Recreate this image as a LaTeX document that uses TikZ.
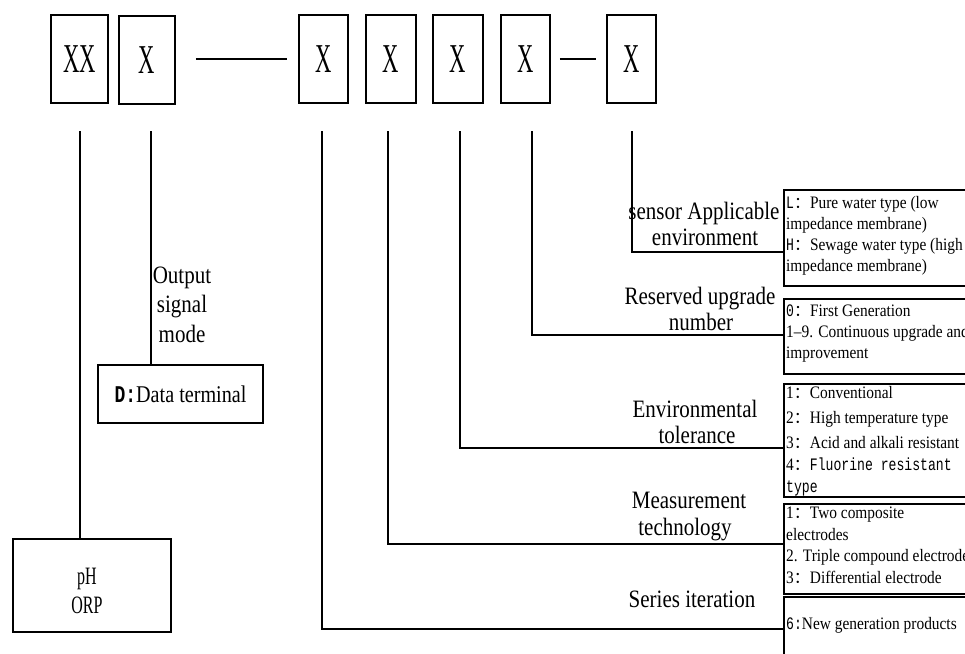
\documentclass[tikz,border=0pt]{standalone}
\usepackage{fontspec}
\setmainfont{Liberation Serif}
\newfontfamily\cjkfont{Noto Sans CJK SC}
\newfontfamily\condfont[FakeStretch=0.55]{Liberation Serif}
\newfontfamily\phfont[FakeStretch=0.64]{Liberation Serif}
\newfontfamily\labfont[FakeStretch=0.84]{Liberation Serif}
\newfontfamily\boxfont[FakeStretch=0.88]{Liberation Serif}
\newfontfamily\monocond[FakeStretch=0.75]{Liberation Mono}
\newcommand{\fwcolon}{{\cjkfont\fontsize{16}{16}\selectfont ：}}
\begin{document}
\begin{tikzpicture}[x=1pt,y=-1pt,
  ln/.style={line width=1.6pt},
  topbox/.style={draw, line width=1.5pt, minimum height=88pt, inner sep=0pt,
    font=\condfont\fontsize{41}{41}\selectfont},
  lbl/.style={anchor=base, inner sep=0pt, font=\labfont\fontsize{25}{25}\selectfont},
  bt/.style={anchor=base west, inner sep=0pt, font=\boxfont\fontsize{17.5}{17.5}\selectfont},
  rbox/.style={draw, line width=1.8pt, anchor=north west, minimum width=200pt, inner sep=0pt}
]
\useasboundingbox[fill=white] (0,0) rectangle (965,653);

% top code boxes
\node[topbox, minimum width=57pt] (xx) at (79.5,59) {XX};
\node[topbox, minimum width=56pt] (x1) at (147,60) {X};
\node[topbox, minimum width=49pt] (c3) at (323.5,59) {X};
\node[topbox, minimum width=50pt] (c4) at (391,59) {X};
\node[topbox, minimum width=50pt] (c5) at (458,59) {X};
\node[topbox, minimum width=49pt] (c6) at (525.5,59) {X};
\node[topbox, minimum width=49pt] (c7) at (631.5,59) {X};
\draw[ln] ([xshift=20pt]x1.east |- c3.west) -- ([xshift=-11pt]c3.west);
\draw[ln] ([xshift=9pt]c6.east) -- ([xshift=-10pt]c7.west);

% start points of the vertical leaders
\coordinate (v1) at (80,131);
\coordinate (v2) at (151,131);
\coordinate (v3) at (322,131);
\coordinate (v4) at (388,131);
\coordinate (v5) at (460,131);
\coordinate (v6) at (532,131);
\coordinate (v7) at (632,131);

% left boxes
\node[draw, ln, minimum width=158pt, minimum height=93pt, anchor=north west, inner sep=0pt] (ph) at (12,538) {};
\node[anchor=base, inner sep=0pt, font=\phfont\fontsize{25}{25}\selectfont] (phA) at (87,584) {pH};
\node[anchor=base, inner sep=0pt, font=\phfont\fontsize{25}{25}\selectfont] (phB) at (87,613) {ORP};

\node[draw, ln, minimum width=165pt, minimum height=58pt, inner sep=0pt,
      font=\labfont\fontsize{24}{24}\selectfont] (dbox) at (180.5,394) {{\monocond\bfseries D:}Data terminal};

\node[lbl] (os1) at (182,283) {Output};
\node[lbl] (os2) at (182,312) {signal};
\node[lbl] (os3) at (182,342) {mode};

\draw[ln] (v1) -- (v1 |- ph.north);
\draw[ln] (v2) -- (v2 |- dbox.north);

% right boxes
\node[rbox, minimum height=96pt] (b1) at (783,189) {};
\node[rbox, minimum height=75pt] (b2) at (783,298) {};
\node[rbox, minimum height=113pt] (b3) at (783,383) {};
\node[rbox, minimum height=90pt] (b4) at (783,503) {};
\node[rbox, minimum height=80pt] (b5) at (783,596) {};

% leaders to right boxes
\draw[ln] (v7) |- ([yshift=-14pt]b1.west);
\draw[ln] (v6) |- ([yshift=1.5pt]b2.west);
\draw[ln] (v5) |- ([yshift=-7.5pt]b3.west);
\draw[ln] (v4) |- ([yshift=5pt]b4.west);
\draw[ln] (v3) |- ([yshift=8pt]b5.west);

% labels
\node[lbl] (sa1) at (704,219) {sensor Applicable};
\node[lbl] (sa2) at (705,245) {environment};
\node[lbl] (ru1) at (700,304) {Reserved upgrade};
\node[lbl] (ru2) at (701,330) {number};
\node[lbl] (et1) at (695,417) {Environmental};
\node[lbl] (et2) at (697,443) {tolerance};
\node[lbl] (mt1) at (689,508) {Measurement};
\node[lbl] (mt2) at (685,535) {technology};
\node[lbl] (si) at (692,607) {Series iteration};

% box texts
\node[bt] (t11) at (786,208) {{\monocond L}\fwcolon{}Pure water type (low};
\node[bt] (t12) at (786,229) {impedance membrane)};
\node[bt] (t13) at (786,250) {{\monocond H}\fwcolon{}Sewage water type (high};
\node[bt] (t14) at (786,271) {impedance membrane)};

\node[bt] (t21) at (786,316) {{\monocond 0}\fwcolon{}First Generation};
\node[bt] (t22) at (786,337) {1–9. Continuous upgrade and};
\node[bt] (t23) at (786,358) {improvement};

\node[bt] (t31) at (786,398) {1\fwcolon{}Conventional};
\node[bt] (t32) at (786,423) {2\fwcolon{}High temperature type};
\node[bt] (t33) at (786,448) {3\fwcolon{}Acid and alkali resistant};
\node[bt] (t34) at (786,470) {4\fwcolon{}{\monocond Fluorine resistant}};
\node[bt] (t35) at (786,492) {{\monocond type}};

\node[bt] (t41) at (786,518) {1\fwcolon{}Two composite};
\node[bt] (t42) at (786,540) {electrodes};
\node[bt] (t43) at (786,561) {2. Triple compound electrode};
\node[bt] (t44) at (786,583) {3\fwcolon{}Differential electrode};

\node[bt] (t51) at (786,629) {{\monocond 6:}New generation products};
\end{tikzpicture}
\end{document}
